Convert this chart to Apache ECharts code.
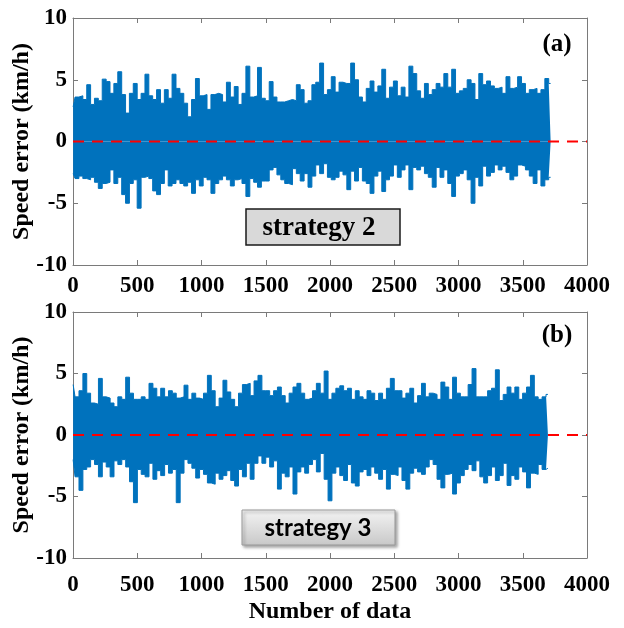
<!DOCTYPE html>
<html><head><meta charset="utf-8">
<script src="https://cdn.jsdelivr.net/npm/echarts@6/dist/echarts.min.js"></script>
<style>html,body{margin:0;padding:0;background:#fff}#c{width:624px;height:628px}</style>
</head><body><div id="c"></div>
<script>
// ---- data ----
const xTicks = [0, 500, 1000, 1500, 2000, 2500, 3000, 3500, 4000];
const yTicks = [-10, -5, 0, 5, 10];
const countA = 3717;   // number of samples, strategy 2
const countB = 3696;   // number of samples, strategy 3
const refValue = 0;    // red dashed reference
// envelope of the speed error, one value per ~30 samples
const upperA = [2.8,3.6,3.7,3.4,4.6,3.0,3.5,3.3,5.05,4.85,3.9,4.7,5.65,3.8,2.3,3.9,4.7,3.4,3.9,5.45,3.7,3.4,4.2,3.1,4.2,3.5,5.45,4.3,3.9,3.1,2.0,3.4,5.1,3.7,3.8,2.6,3.8,3.9,3.8,3.2,4.8,3.6,
  4.45,3.0,3.9,6.1,3.6,3.7,6.0,3.5,3.3,4.85,3.6,3.2,3.2,3.3,3.4,3.3,4.6,4.2,3.1,3.3,4.6,4.8,6.35,3.8,4.2,5.25,4.0,4.8,4.7,4.7,6.35,5.0,3.6,3.2,4.3,4.9,4.0,4.5,5.85,3.5,4.4,4.9,
  3.7,4.4,3.6,6.1,5.5,4.1,3.5,4.7,3.8,4.2,4.7,4.4,5.5,4.4,5.85,3.9,4.1,4.3,5.0,4.7,3.4,5.5,4.6,4.9,4.5,4.3,4.4,3.9,5.25,4.3,4.4,5.25,4.7,3.9,4.2,4.3,3.9,4.2,5.1,4.7];
const lowerA = [-2.6,-3.0,-2.8,-3.0,-3.1,-2.9,-3.3,-3.8,-3.4,-3.3,-2.3,-3.4,-2.9,-4.3,-5.0,-3.4,-3.1,-5.4,-2.9,-2.8,-3.0,-4.0,-4.3,-3.4,-2.3,-3.6,-3.4,-3.1,-3.4,-3.6,-3.3,-4.2,-3.1,-3.6,-2.9,-3.1,-4.2,-3.4,-3.1,-2.8,-3.1,-3.6,
  -3.1,-3.0,-3.4,-4.45,-3.0,-3.3,-3.7,-3.2,-3.2,-2.3,-2.1,-2.7,-3.1,-3.4,-3.5,-2.2,-2.6,-3.2,-2.6,-3.7,-2.8,-1.9,-2.6,-1.8,-2.9,-3.1,-2.9,-2.4,-2.7,-3.9,-2.4,-3.2,-2.1,-3.2,-3.4,-4.2,-2.8,-2.4,-4.05,-3.1,-2.8,-1.9,
  -2.9,-2.3,-1.9,-3.9,-2.1,-2.3,-2.0,-2.6,-2.9,-3.7,-2.1,-2.9,-2.3,-3.4,-4.45,-2.8,-2.6,-2.3,-3.1,-5.0,-2.9,-3.6,-2.0,-2.8,-2.5,-1.9,-2.3,-2.0,-2.5,-3.1,-2.8,-1.9,-2.0,-2.3,-2.8,-3.4,-2.3,-3.6,-3.1,-2.9];
const upperB = [4.1,3.1,3.6,5.0,3.4,2.6,2.5,4.6,3.1,3.0,2.6,2.3,3.1,2.9,4.7,3.4,2.9,2.9,3.1,2.9,4.2,3.8,3.1,3.8,3.1,3.6,3.4,3.0,3.1,4.05,2.9,3.4,3.0,2.9,3.4,4.85,3.6,2.3,3.0,4.45,3.5,2.9,
  2.3,3.4,4.1,4.2,3.2,4.4,4.85,3.6,3.6,3.2,3.6,3.9,3.2,2.6,3.4,3.9,4.2,3.4,2.9,3.0,3.6,4.2,3.4,5.2,2.9,3.4,3.8,4.0,3.6,3.8,2.9,3.6,3.1,2.9,3.6,3.4,2.8,3.4,2.9,3.8,4.6,3.6,
  3.6,3.0,3.4,3.8,2.6,3.2,4.2,3.1,3.4,3.3,2.9,4.3,3.9,2.9,4.7,3.4,3.1,3.1,4.1,5.4,3.1,3.1,3.1,3.6,3.8,5.3,2.8,3.3,3.9,3.4,3.9,2.9,3.4,3.9,4.85,3.1,2.9,3.1,3.3];
const lowerB = [-2.0,-3.4,-4.5,-2.8,-2.6,-2.0,-2.4,-3.4,-2.2,-2.6,-3.4,-2.1,-2.4,-2.0,-2.6,-3.8,-5.5,-2.8,-3.2,-3.4,-2.3,-3.6,-2.9,-3.3,-2.4,-3.1,-2.8,-5.5,-3.1,-2.0,-2.3,-2.7,-3.5,-2.8,-3.2,-3.9,-4.0,-3.1,-3.6,-3.3,-2.9,-3.7,
  -4.15,-2.8,-3.4,-2.3,-3.6,-2.3,-1.7,-2.3,-1.8,-2.6,-2.1,-4.4,-3.1,-3.4,-2.6,-4.8,-3.0,-2.6,-3.1,-2.4,-2.0,-3.0,-1.5,-3.6,-5.35,-3.1,-2.6,-3.3,-3.7,-2.4,-3.9,-4.15,-3.0,-2.8,-3.3,-2.6,-3.1,-3.6,-2.8,-4.4,-3.2,-3.3,
  -2.6,-3.7,-4.4,-3.1,-2.7,-3.0,-3.2,-2.6,-2.0,-2.4,-3.6,-4.3,-3.2,-3.1,-4.8,-3.9,-3.3,-2.8,-2.4,-2.9,-2.1,-3.4,-3.9,-3.3,-2.6,-3.7,-3.3,-2.3,-4.1,-3.3,-3.6,-2.6,-3.0,-4.3,-3.1,-3.2,-2.4,-2.8,-2.7];
const panelTags = ['(a)', '(b)'];
const strategyNames = ['strategy 2', 'strategy 3'];
const yTitle = 'Speed error (km/h)';
const xTitle = 'Number of data';

// ---- chart ----
const blue = '#0072BD';
const serif = '"Liberation Serif", "Times New Roman", serif';
const axisGray = '#7a7a7a';
const grids = [
  {left: 73, top: 18, width: 514, height: 247},
  {left: 73, top: 312, width: 514, height: 246}
];
const xLabelMargins = [10, 16];

function mkX(gi, pos, showLabel) {
  return {
    type: 'value', gridIndex: gi, position: pos,
    min: xTicks[0], max: xTicks[xTicks.length - 1], interval: xTicks[1] - xTicks[0],
    axisLine: {show: true, onZero: false, lineStyle: {color: axisGray, width: 1}},
    axisTick: {show: true, inside: true, length: 5, lineStyle: {color: axisGray}},
    splitLine: {show: false},
    axisLabel: {show: showLabel, color: '#000', fontFamily: serif, fontWeight: 'bold', fontSize: 23, margin: xLabelMargins[gi],
      showMinLabel: true, showMaxLabel: true, formatter: v => String(v)}
  };
}
function mkY(gi, pos, showLabel) {
  return {
    type: 'value', gridIndex: gi, position: pos,
    min: yTicks[0], max: yTicks[yTicks.length - 1], interval: yTicks[1] - yTicks[0],
    axisLine: {show: true, onZero: false, lineStyle: {color: axisGray, width: 1}},
    axisTick: {show: true, inside: true, length: 5, lineStyle: {color: axisGray}},
    splitLine: {show: false},
    axisLabel: {show: showLabel, color: '#000', fontFamily: serif, fontWeight: 'bold', fontSize: 23, margin: 6,
      showMinLabel: true, showMaxLabel: true, formatter: v => String(v)}
  };
}

function bandSeries(gi, upper, lower, count) {
  const n = upper.length;
  const pos = upper.map((_, i) => Math.round(1 + i * (count - 1) / (n - 1)));
  const base = {
    type: 'line', xAxisIndex: gi * 2, yAxisIndex: gi * 2, step: 'middle',
    symbol: 'none', showSymbol: false, silent: true, animation: false,
    lineStyle: {color: blue, width: 1}, areaStyle: {color: blue, opacity: 1, origin: 'auto'}, z: 2
  };
  return [
    Object.assign({}, base, {data: pos.map((x, i) => [x, upper[i]])}),
    Object.assign({}, base, {data: pos.map((x, i) => [x, lower[i]])}),
    {
      type: 'line', xAxisIndex: gi * 2, yAxisIndex: gi * 2, symbol: 'none', silent: true, animation: false, z: 5,
      data: [[xTicks[0], refValue], [xTicks[xTicks.length - 1], refValue]],
      lineStyle: {color: '#FF0000', width: 2, type: [11, 8]}
    }
  ];
}

function txt(x, y, text, family, size, extra) {
  return Object.assign({type: 'text', x: x, y: y, z: 11,
    style: {text: text, fontFamily: family, fontWeight: 'bold', fontSize: size, fill: '#000', textAlign: 'center', textVerticalAlign: 'middle'}}, extra || {});
}

const graphic = [];
// strategy 2 box (serif label)
graphic.push({type: 'rect', shape: {x: 246, y: 209, width: 154, height: 36},
  style: {fill: '#d9d9d9', stroke: '#1a1a1a', lineWidth: 1.5}, z: 10});
graphic.push(txt(319, 228, strategyNames[0], serif, 27));
// strategy 3 box (sans label, gradient fill)
graphic.push({type: 'rect', shape: {x: 242, y: 510, width: 153, height: 35}, z: 10,
  style: {fill: new echarts.graphic.LinearGradient(0, 0, 0, 1, [{offset: 0, color: '#f4f4f4'}, {offset: 1, color: '#c8c8c8'}]),
    stroke: '#9a9a9a', lineWidth: 1, shadowBlur: 3, shadowOffsetX: 2, shadowOffsetY: 2, shadowColor: 'rgba(0,0,0,0.35)'}});
graphic.push(txt(318, 528, strategyNames[1], 'Lato, "Open Sans", sans-serif', 24));
// panel tags
graphic.push(txt(557, 45, panelTags[0], serif, 25));
graphic.push(txt(557, 336, panelTags[1], serif, 25));
// axis titles
[141.5, 435].forEach(cy => graphic.push(txt(22, cy, yTitle, serif, 24, {rotation: Math.PI / 2})));
graphic.push(txt(330, 612, xTitle, serif, 24));

const chart = echarts.init(document.getElementById('c'), null, {renderer: 'canvas'});
chart.setOption({
  animation: false,
  backgroundColor: '#fff',
  grid: grids,
  xAxis: [mkX(0, 'bottom', true), mkX(0, 'top', false), mkX(1, 'bottom', true), mkX(1, 'top', false)],
  yAxis: [mkY(0, 'left', true), mkY(0, 'right', false), mkY(1, 'left', true), mkY(1, 'right', false)],
  series: [].concat(bandSeries(0, upperA, lowerA, countA), bandSeries(1, upperB, lowerB, countB)),
  graphic: graphic
});
</script>
</body></html>
